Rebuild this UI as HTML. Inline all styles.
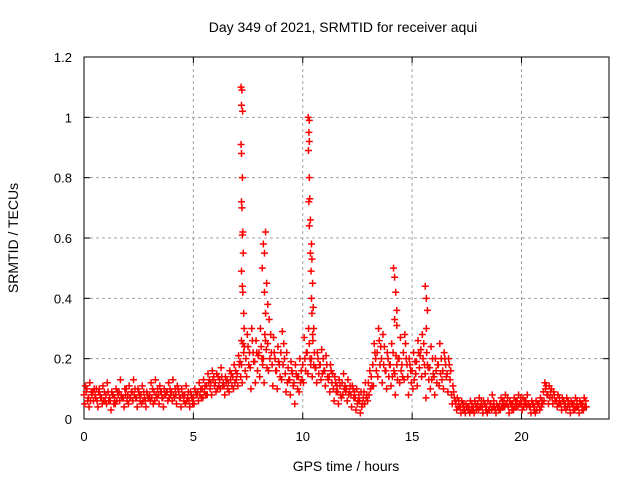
<!DOCTYPE html>
<html><head><meta charset="utf-8"><style>
body{margin:0;background:#fff;}
svg{display:block;font-family:"Liberation Sans",sans-serif;}
</style></head><body>
<svg id="chart" width="640" height="480">
<text x="343" y="32" font-size="14" text-anchor="middle">Day 349 of 2021, SRMTID for receiver aqui</text>
<g id="grid"></g>
<g id="axes"></g>
<g id="marks"></g>
<text x="346" y="471" font-size="14" text-anchor="middle">GPS time / hours</text>
<text transform="translate(18,238) rotate(-90)" font-size="14" text-anchor="middle">SRMTID / TECUs</text>
</svg>
<script>
const xTicks=[0,5,10,15,20];
const yTicks=[0,0.2,0.4,0.6,0.8,1,1.2];
const yTickLabels=["0","0.2","0.4","0.6","0.8","1","1.2"];
const seriesA=[.08,.07,.09,.06,.07,.08,.06,.07,.09,.07,.08,.09,.07,.08,.06,.08,.09,.08,.07,.09,.09,.08,.07,.08,.06,.07,.09,.10,.11,.12,.12,.13,.11,.12,.14,.15,.18,.20,.17,.19,.22,.20,.25,.18,.16,.22,.15,.13,.12,.14,.18,.22,.20,.17,.18,.16,.14,.10,.09,.12,.10,.08,.07,.06,.09,.12,.18,.22,.20,.16,.18,.15,.20,.22,.14,.16,.19,.23,.15,.17,.14,.18,.16,.15,.08,.05,.04,.03,.04,.04,.05,.04,.04,.05,.03,.05,.06,.04,.05,.06,.05,.06,.04,.04,.05,.09,.08,.07,.06,.05,.05,.04,.05,.04,.05];
const seriesB=[.05,.04,.06,.04,.05,.05,.03,.05,.06,.04,.05,.06,.04,.05,.04,.06,.06,.05,.04,.06,.06,.05,.04,.05,.04,.05,.06,.07,.08,.08,.09,.10,.08,.09,.10,.11,.12,.14,.10,.12,.14,.12,.16,.11,.10,.13,.09,.08,.05,.09,.12,.15,.14,.12,.13,.11,.09,.06,.05,.08,.06,.04,.03,.02,.05,.08,.11,.14,.12,.10,.11,.08,.12,.13,.08,.10,.11,.14,.07,.10,.08,.11,.10,.09,.05,.03,.02,.02,.02,.02,.03,.02,.02,.03,.02,.03,.04,.02,.03,.04,.03,.04,.02,.02,.03,.06,.05,.05,.04,.03,.03,.02,.03,.02,.03];
const seriesC=[.11,.12,.10,.09,.11,.12,.09,.10,.13,.10,.11,.13,.10,.11,.09,.12,.13,.11,.10,.12,.13,.11,.10,.11,.09,.10,.12,.13,.15,.16,.15,.17,.14,.16,.18,.21,.25,.28,.30,.26,.30,.28,.33,.27,.24,.29,.22,.19,.18,.20,.27,.30,.26,.22,.23,.21,.18,.14,.13,.15,.13,.11,.10,.09,.12,.16,.25,.30,.28,.22,.25,.21,.27,.28,.20,.22,.26,.28,.22,.24,.20,.25,.22,.20,.11,.07,.06,.05,.06,.06,.07,.06,.06,.08,.05,.07,.08,.06,.07,.08,.07,.08,.06,.06,.07,.12,.11,.09,.08,.07,.07,.06,.07,.06,.07];
const seriesD=[.09,.06,.08,.10,.06,.09,.08,.06,.08,.08,.07,.08,.09,.06,.08,.07,.08,.09,.08,.07,.08,.10,.08,.06,.08,.09,.08,.09,.12,.13,.10,.14,.12,.13,.12,.18,.22,.24,.26,.22,.24,.26,.20,.22,.19,.18,.12,.16,.15,.12,.20,.25,.18,.20,.15,.18,.16,.12,.11,.10,.08,.10,.05,.04,.07,.10,.22,.26,.18,.20,.14,.18,.16,.25,.18,.13,.22,.20,.18,.13,.16,.15,.20,.18,.09,.04,.05,.04,.03,.05,.04,.05,.03,.04,.04,.04,.05,.05,.04,.05,.04,.05,.05,.03,.04,.10,.07,.08,.05,.06,.04,.05,.04,.05,.04];
const seriesE=[.10,.09,.07,.08,.09,.06,.08,.09,.07,.10,.07,.10,.08,.09,.07,.10,.07,.09,.08,.10,.07,.09,.08,.07,.07,.08,.10,.11,.13,.14,.14,.11,.13,.15,.16,.19,.24,.18,.22,.16,.20,.23,.28,.20,.18,.25,.17,.15,.14,.16,.16,.20,.22,.15,.20,.14,.12,.09,.08,.11,.09,.07,.06,.05,.08,.14,.20,.18,.24,.14,.22,.13,.18,.20,.16,.19,.17,.25,.17,.20,.12,.20,.18,.13,.07,.06,.03,.04,.05,.03,.04,.05,.03,.06,.04,.06,.05,.05,.06,.05,.06,.05,.05,.05,.06,.11,.09,.06,.07,.06,.06,.05,.06,.05,.06];
const seriesF=[.06,.08,.10,.07,.06,.07,.05,.08,.07,.06,.09,.07,.06,.07,.07,.05,.10,.07,.09,.08,.10,.07,.06,.09,.05,.08,.07,.08,.10,.11,.11,.12,.10,.11,.13,.14,.16,.22,.19,.21,.18,.17,.22,.16,.14,.20,.13,.11,.10,.13,.22,.18,.17,.18,.16,.13,.15,.11,.07,.09,.11,.09,.08,.07,.06,.11,.16,.24,.16,.18,.16,.20,.14,.18,.12,.15,.21,.18,.13,.15,.18,.13,.14,.16,.06,.04,.05,.03,.03,.04,.06,.03,.05,.04,.03,.04,.07,.03,.04,.07,.05,.04,.03,.05,.05,.08,.10,.06,.05,.04,.05,.03,.04,.03,.04];
const spikeT=[7.18,7.22,7.2,7.25,7.18,7.2,7.24,7.2,7.22,7.26,7.24,7.28,7.2,7.24,7.26,7.3,7.32,7.2,
 8.2,8.25,8.15,8.3,8.35,8.25,8.4,8.3,
 10.25,10.3,10.28,10.3,10.26,10.3,10.32,10.28,10.35,10.3,10.4,10.35,10.42,10.38,10.45,10.4,10.48,10.42,10.5,10.45,
 14.15,14.2,14.25,14.3,14.2,14.3,
 15.6,15.65,15.7,15.65];
const spikeV=[1.10,1.09,1.04,1.02,0.91,0.88,0.80,0.72,0.70,0.62,0.61,0.55,0.49,0.44,0.42,0.35,0.30,0.26,
 0.58,0.55,0.50,0.62,0.45,0.42,0.38,0.35,
 1.00,0.99,0.95,0.92,0.89,0.80,0.73,0.72,0.66,0.64,0.58,0.55,0.53,0.49,0.45,0.40,0.37,0.35,0.30,0.28,
 0.50,0.47,0.42,0.36,0.33,0.31,
 0.44,0.40,0.36,0.30];
const X0=84,X1=609,Y0=419,Y1=57,XMAX=24,YMAX=1.2;
function xs(v){return X0+(X1-X0)*v/XMAX;}
function ys(v){return Y0-(Y0-Y1)*v/YMAX;}
const NS="http://www.w3.org/2000/svg";
function mk(tag,attrs,parent){const e=document.createElementNS(NS,tag);for(const k in attrs)e.setAttribute(k,attrs[k]);parent.appendChild(e);return e;}
const grid=document.getElementById('grid'),axes=document.getElementById('axes'),marks=document.getElementById('marks');
xTicks.forEach((t,i)=>{
 const x=xs(t);
 if(t>0){const g=mk('line',{x1:x,x2:x,y1:Y1,y2:Y0,stroke:'#a0a0a0','stroke-dasharray':'3,3'},grid);
 
 }
 mk('line',{x1:x,x2:x,y1:Y0,y2:Y0-6,stroke:'#000'},axes);
 mk('line',{x1:x,x2:x,y1:Y1,y2:Y1+6,stroke:'#000'},axes);
 const tx=mk('text',{x:x,y:Y0+22,'font-size':13,'text-anchor':'middle'},axes);
 tx.textContent=String(t);
 
 
});
yTicks.forEach((t,i)=>{
 const y=ys(t);
 if(t>0&&t<1.2){const g=mk('line',{x1:X0,x2:X1,y1:y,y2:y,stroke:'#a0a0a0','stroke-dasharray':'3,3'},grid);
 
 }
 mk('line',{x1:X0,x2:X0+6,y1:y,y2:y,stroke:'#000'},axes);
 mk('line',{x1:X1,x2:X1-6,y1:y,y2:y,stroke:'#000'},axes);
 const tx=mk('text',{x:X0-12,y:y+5,'font-size':13,'text-anchor':'end'},axes);
 tx.textContent=yTickLabels[i];
 
 
});
mk('rect',{x:X0,y:Y1,width:X1-X0,height:Y0-Y1,fill:'none',stroke:'#000'},axes);
function plus(t,v){
 const x=xs(t),y=ys(v);
 const p=mk('path',{d:`M${x-3.5},${y}h7M${x},${y-3.5}v7`,stroke:'#ff0000','stroke-width':1.5,fill:'none'},marks);
 
 
}
[seriesA,seriesB,seriesC,seriesD,seriesE,seriesF].forEach((s,k)=>{
 s.forEach((v,i)=>{plus(i*0.2+k*0.033,v);});
});
spikeT.forEach((t,i)=>plus(t,spikeV[i]));
</script>
</body></html>
